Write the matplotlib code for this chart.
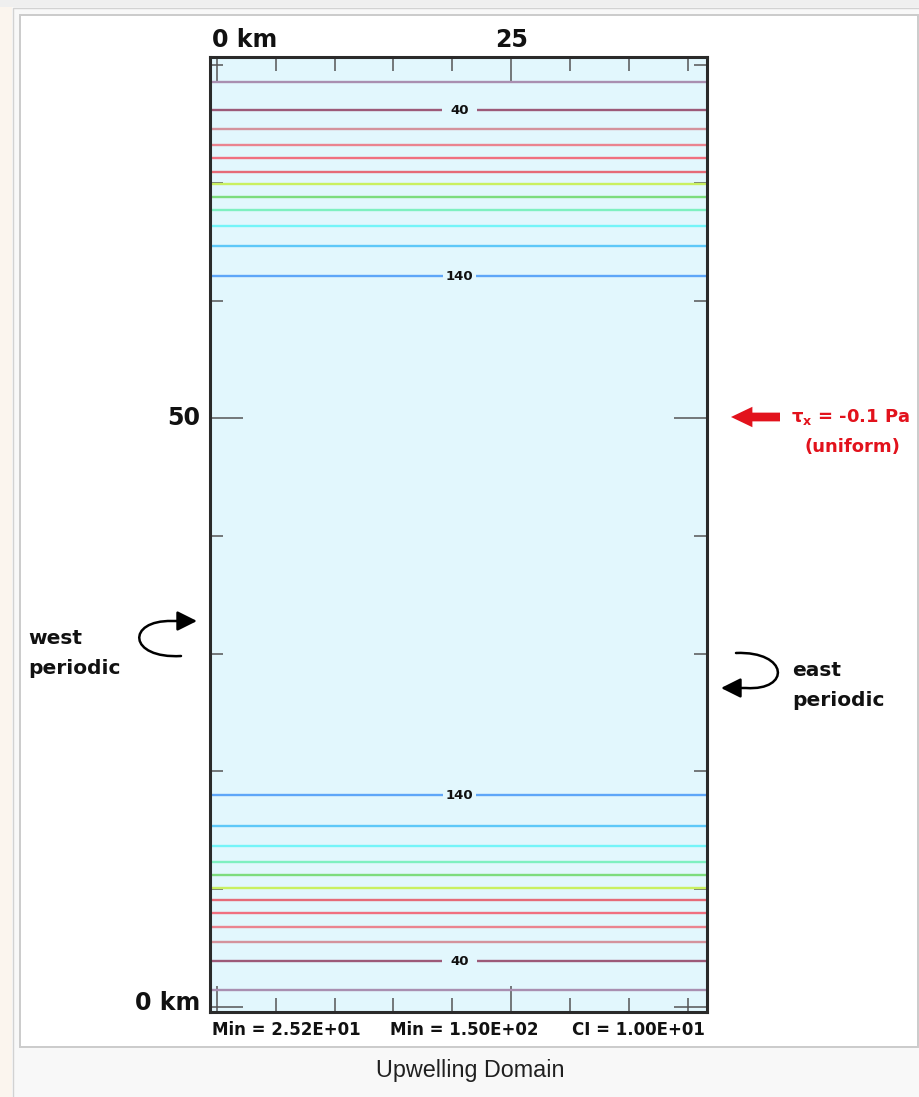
import numpy as np
import matplotlib
matplotlib.use("Agg")
import matplotlib.pyplot as plt
from matplotlib.path import Path
from matplotlib.patches import Rectangle, FancyArrowPatch
import matplotlib.transforms as mtransforms

# ---------------- data ----------------
levels = [30, 40, 50, 60, 70, 80, 90, 100, 110, 120, 130, 140]
y_south = [1.42, 3.86, 5.47, 6.80, 7.94, 9.04, 10.08, 11.16, 12.32, 13.65, 15.35, 17.96]
y_north = [78.59, 76.18, 74.54, 73.21, 72.08, 70.94, 69.92, 68.82, 67.66, 66.33, 64.63, 62.08]
level_colors = ["#a98fb0", "#9c5a78", "#d4939c", "#ea8490", "#f07080", "#e56b78",
                "#c9f060", "#7ddc7d", "#7ef0c0", "#74f4f8", "#5ec8f8", "#5ea6f8"]
labeled_levels = [40, 140]
label_x = 20.6
x_major = [0, 25]
x_minor = [5, 10, 15, 20, 30, 35, 40]
y_major = [0, 50]
y_minor = [10, 20, 30, 40, 60, 70, 80]
stats = ["Min = 2.52E+01", "Min = 1.50E+02", "CI = 1.00E+01"]
caption = "Upwelling Domain"

W, H = 920, 1097
fig = plt.figure(figsize=(W / 100, H / 100), dpi=100, facecolor="#f9f9f9")

def P(x, y):
    return (x / W, 1 - y / H)

def prect(x0, y0, x1, y1, **kw):
    r = Rectangle(P(x0, y1), (x1 - x0) / W, (y1 - y0) / H, transform=fig.transFigure,
                  zorder=-10, **kw)
    fig.patches.append(r)

# page frame
prect(0, 0, 920, 7, fc="#efefef", ec="none")
prect(0, 7, 12, 1097, fc="#fbf5ee", ec="none")
prect(13, 7.5, 921, 1098, fc="#f8f8f8", ec="#d2d2d2", lw=1.0)
prect(20, 15, 918, 1047, fc="white", ec="#cbcbcb", lw=1.4)

# ---------------- axes ----------------
ax = fig.add_axes([210 / W, (H - 1012) / H, 497 / W, 955 / H])
ax.set_zorder(1)
bg = "#e2f7fd"
ax.set_facecolor(bg)
xlim = (-0.57, 41.62)
ylim = (-0.45, 80.69)
ax.set_xlim(*xlim)
ax.set_ylim(*ylim)

for ys in (y_south, y_north):
    ax.hlines(ys, xlim[0], xlim[1], colors=level_colors, linewidth=1.7, zorder=2)

label_pad = {40: 0.65, 140: 0.2}
for lv, ys, yn in zip(levels, y_south, y_north):
    if lv in labeled_levels:
        for yy in (ys, yn):
            ax.text(label_x, yy, str(lv), ha="center", va="center", fontsize=9.5,
                    fontweight="bold", color="#111111", zorder=3,
                    bbox=dict(boxstyle="square,pad=%.2f" % label_pad[lv], fc=bg, ec="none"))

ax.set_xticks(x_major)
ax.set_xticks(x_minor, minor=True)
ax.set_yticks(y_major)
ax.set_yticks(y_minor, minor=True)
ax.tick_params(which="both", direction="in", top=True, right=True, bottom=True, left=True,
               labelbottom=False, labelleft=False, color="#555555", width=1.1)
ax.tick_params(axis="x", which="major", length=18.5)
ax.tick_params(axis="x", which="minor", length=10)
ax.tick_params(axis="y", which="major", length=23.8)
ax.tick_params(axis="y", which="minor", length=9.4)
for sp in ax.spines.values():
    sp.set_linewidth(2.2)
    sp.set_color("#2a2a2a")
    sp.set_zorder(5)

bold = dict(fontweight="bold", color="#111111", family="DejaVu Sans")

# axis labels
tr_top = mtransforms.blended_transform_factory(ax.transData, fig.transFigure)
ax.text(xlim[0] + 0.15, 1 - 40 / H, "0 km", transform=tr_top, ha="left", va="center",
        fontsize=17, **bold)
ax.text(25, 1 - 40 / H, "25", transform=tr_top, ha="center", va="center", fontsize=17, **bold)
tr_left = mtransforms.blended_transform_factory(fig.transFigure, ax.transData)
ax.text(200 / W, 50, "50", transform=tr_left, ha="right", va="center", fontsize=17, **bold)
ax.text(200 / W, 0.3, "0 km", transform=tr_left, ha="right", va="center", fontsize=17, **bold)

# stats below
fig.text(*P(212, 1030), stats[0], ha="left", va="center", fontsize=12, **bold)
fig.text(*P(464, 1030), stats[1], ha="center", va="center", fontsize=12, **bold)
fig.text(*P(705, 1030), stats[2], ha="right", va="center", fontsize=12, **bold)

# wind stress
red = "#e2121c"
wind = FancyArrowPatch(P(780, 417), P(731, 417), transform=fig.transFigure,
                       arrowstyle="simple,head_length=1.1,head_width=1.05,tail_width=0.45",
                       mutation_scale=14, color=red, shrinkA=0, shrinkB=0, lw=0)
fig.patches.append(wind)
fig.text(*P(851, 417), "τ$_\\mathbf{x}$ = -0.1 Pa", ha="center", va="center",
         fontsize=13, fontweight="bold", color=red)
fig.text(*P(852, 447), "(uniform)", ha="center", va="center", fontsize=13,
         fontweight="bold", color=red)

# periodic arrows
def curved(pts, codes):
    verts = [P(x, y) for x, y in pts]
    p = FancyArrowPatch(path=Path(verts, codes), arrowstyle="-|>,head_length=0.6,head_width=0.3",
                        mutation_scale=20, lw=1.8, color="black", transform=fig.transFigure)
    fig.patches.append(p)

C4, L2, M = Path.CURVE4, Path.LINETO, Path.MOVETO
curved([(181, 656), (128, 659), (126, 620), (172, 621), (197, 621)], [M, C4, C4, C4, L2])
curved([(736, 653), (789, 651), (791, 691), (746, 688), (721, 688)], [M, C4, C4, C4, L2])

fig.text(*P(28, 638), "west", ha="left", va="center", fontsize=14.5, **bold)
fig.text(*P(28, 668), "periodic", ha="left", va="center", fontsize=14.5, **bold)
fig.text(*P(792, 671), "east", ha="left", va="center", fontsize=14.5, **bold)
fig.text(*P(792, 701), "periodic", ha="left", va="center", fontsize=14.5, **bold)

fig.text(*P(470, 1071), caption, ha="center", va="center", fontsize=16.8,
         family="Liberation Sans", color="#202020")

fig.savefig("out.png", dpi=100, facecolor=fig.get_facecolor())
